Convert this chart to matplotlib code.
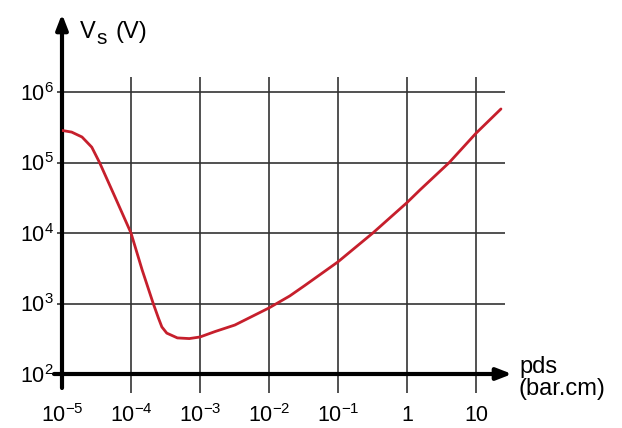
import numpy as np
import matplotlib.pyplot as plt

plt.rcParams['font.family'] = ['Liberation Sans', 'DejaVu Sans']
plt.rcParams['mathtext.fontset'] = 'custom'
plt.rcParams['mathtext.rm'] = 'Liberation Sans'
plt.rcParams['mathtext.it'] = 'Liberation Sans'

# Paschen curve
pds = [1.0e-5, 1.38e-5, 1.95e-5, 2.7e-5, 3.5e-5, 5.9e-5, 1.0e-4, 1.45e-4, 2.1e-4,
       2.5e-4, 2.8e-4, 3.3e-4, 4.7e-4, 7.0e-4, 1.0e-3, 1.65e-3, 3.2e-3, 1.0e-2,
       2.0e-2, 3.3e-2, 0.1, 0.32, 1.0, 1.55, 4.1, 10.0, 23.0]
vs = [2.85e5, 2.7e5, 2.3e5, 1.65e5, 1.0e5, 3.2e4, 1.0e4, 3.0e3, 1.0e3,
      620, 465, 380, 325, 318, 335, 400, 495, 865,
      1.28e3, 1.8e3, 3.9e3, 1.0e4, 2.7e4, 4.1e4, 1.0e5, 2.6e5, 5.75e5]

x_ticks = [1e-5, 1e-4, 1e-3, 1e-2, 1e-1, 1, 10]
x_labels = ['$10^{-5}$', '$10^{-4}$', '$10^{-3}$', '$10^{-2}$', '$10^{-1}$', '1', '10']
y_ticks = [1e2, 1e3, 1e4, 1e5, 1e6]
y_labels = ['$10^{2}$', '$10^{3}$', '$10^{4}$', '$10^{5}$', '$10^{6}$']


def main():
    W, H = 622, 428
    fig = plt.figure(figsize=(W / 100, H / 100), dpi=100)
    ax = fig.add_axes([62 / W, 1 - 374 / H, (515 - 62) / W, (374 - 10) / H])
    ax.set_xscale('log')
    ax.set_yscale('log')
    dx, dy = 69.0, 70.5  # px per decade
    ax.set_xlim(1e-5, 10 ** (-5 + (515 - 62) / dx))
    ax.set_ylim(1e2, 10 ** (2 + (374 - 10) / dy))
    for s in ax.spines.values():
        s.set_visible(False)

    # grid
    x_left = 10 ** (-5 - 5 / dx)
    x_right = 10 ** (-5 + (505 - 62) / dx)
    y_low = 10 ** (2 - 19 / dy)
    y_high = 10 ** (2 + (374 - 77) / dy)
    ax.hlines(y_ticks[1:], x_left, x_right, color='#333333', lw=1.2, clip_on=False, zorder=1)
    ax.vlines(x_ticks[1:], y_low, y_high, color='#333333', lw=1.2, clip_on=False, zorder=1)

    # axes with arrows
    arr = dict(arrowstyle='-|>,head_length=0.9,head_width=0.35', lw=3, color='black',
               shrinkA=0, shrinkB=0)
    ax.annotate('', xy=(10 ** (-5 + (512 - 62) / dx), 1e2),
                xytext=(10 ** (-5 - 8 / dx), 1e2), arrowprops=arr, annotation_clip=False)
    ax.annotate('', xy=(1e-5, 10 ** (2 + (374 - 14) / dy)),
                xytext=(1e-5, 10 ** (2 - 14 / dy)), arrowprops=arr, annotation_clip=False)

    # curve
    ax.plot(pds, vs, color='#c61f2c', lw=2.0, solid_joinstyle='round',
            solid_capstyle='round', zorder=3)

    ax.set_xticks(x_ticks)
    ax.set_xticklabels(x_labels)
    ax.set_yticks(y_ticks)
    ax.set_yticklabels(y_labels)
    ax.minorticks_off()
    ax.tick_params(axis='x', length=0, pad=22, labelsize=15.5)
    ax.tick_params(axis='y', length=0, pad=6, labelsize=15.5)

    fig.text(80 / W, 1 - 32 / H, 'V', fontsize=17, va='center', ha='left')
    fig.text(96 / W, 1 - 38 / H, 's', fontsize=15, va='center', ha='left')
    fig.text(115 / W, 1 - 32 / H, '(V)', fontsize=17, va='center', ha='left')
    fig.text(519 / W, 1 - 378 / H, 'pds\n(bar.cm)', fontsize=17, va='center', ha='left',
             linespacing=0.95)

    fig.savefig('out.png', dpi=100, facecolor='white')


if __name__ == '__main__':
    main()
